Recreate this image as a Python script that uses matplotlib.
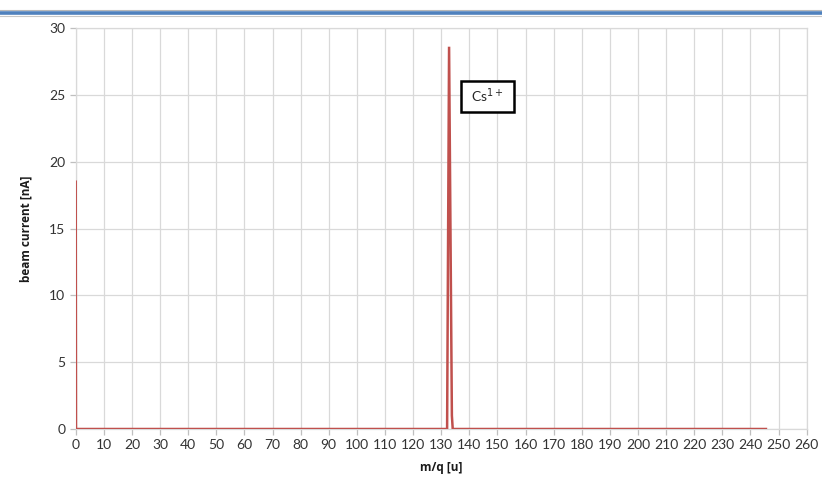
import numpy as np
import matplotlib.pyplot as plt
from matplotlib.lines import Line2D
from matplotlib.patches import Rectangle

# Spettro m/q: corrente di fascio in funzione del rapporto massa/carica
mq = [0.0, 0.1, 132.1, 132.8, 133.8, 134.1, 245.5]
corrente = [18.5, 0.0, 0.0, 28.6, 1.0, 0.0, 0.0]

etichetta_picco = "Cs$^{1+}$"
xticks = list(range(0, 261, 10))
yticks = list(range(0, 31, 5))

plt.rcParams['font.family'] = ['Lato', 'DejaVu Sans']

fig = plt.figure(figsize=(8.22, 4.82), dpi=100)
ax = fig.add_axes([75.7 / 822, 53 / 482, 731 / 822, 401 / 482])

# Barra blu in alto (intestazione)
fig.add_artist(Line2D([0, 1], [1 - 9.5 / 482] * 2, color='#b8b8b8', lw=0.8))
fig.add_artist(Line2D([0, 1], [1 - 12.5 / 482] * 2, color='#4f81bd', lw=2.6))
fig.add_artist(Line2D([0, 1], [1 - 15.5 / 482] * 2, color='#c8c8c8', lw=0.8))

ax.plot(mq, corrente, color='#c0504d', lw=1.8, solid_joinstyle='miter', zorder=3)

ax.set_xlim(0, 260)
ax.set_ylim(0, 30)
ax.set_xticks(xticks)
ax.set_yticks(yticks)
ax.grid(True, color='#d9d9d9', lw=0.9)
ax.set_axisbelow(True)
for s in ax.spines.values():
    s.set_color('#d9d9d9')
    s.set_linewidth(0.9)
ax.tick_params(axis='both', colors='#bfbfbf', length=4, width=0.9,
               labelcolor='#333333', labelsize=10)

ax.set_xlabel('m/q [u]', fontsize=8.5, fontweight='bold', color='#1a1a1a',
              family=['Open Sans', 'DejaVu Sans'], labelpad=7)
ax.set_ylabel('beam current [nA]', fontsize=8.5, fontweight='bold', color='#1a1a1a',
              family=['Open Sans', 'DejaVu Sans'], labelpad=12)

# Riquadro con l'etichetta del picco
ax.add_patch(Rectangle((137.1, 23.7), 18.9, 2.35, fc='white', ec='black', lw=1.8, zorder=4))
ax.text(146.5, 24.9, etichetta_picco, fontsize=10, color='#262626',
        va='center', ha='center', zorder=5)

fig.savefig('out.png', dpi=100)
